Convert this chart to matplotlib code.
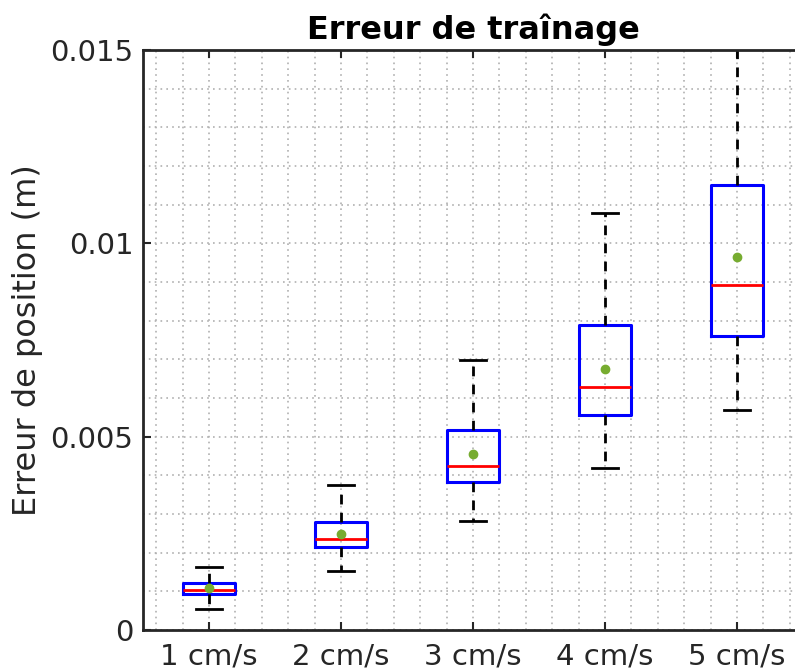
import matplotlib.pyplot as plt
from matplotlib.ticker import MultipleLocator

# statistiques des boîtes par vitesse
labels = ["1 cm/s", "2 cm/s", "3 cm/s", "4 cm/s", "5 cm/s"]
q1 = [0.00093, 0.00215, 0.00383, 0.00556, 0.00760]
med = [0.00103, 0.00235, 0.00424, 0.00628, 0.00892]
q3 = [0.00122, 0.00279, 0.00517, 0.00789, 0.01151]
wlo = [0.00054, 0.00153, 0.00282, 0.00419, 0.00569]
whi = [0.00163, 0.00375, 0.00698, 0.01078, 0.01620]
moy = [0.00109, 0.00248, 0.00455, 0.00675, 0.00965]

stats = []
for i in range(len(labels)):
    stats.append(dict(label=labels[i], q1=q1[i], med=med[i], q3=q3[i],
                      whislo=wlo[i], whishi=whi[i], mean=moy[i], fliers=[]))

axc = '#262626'
fig = plt.figure(figsize=(7.95, 6.71), dpi=100)
ax = fig.add_axes([0.18, 0.0611, 0.830, 0.8644])

ax.bxp(stats, positions=range(1, 6), widths=0.4, showmeans=True,
       boxprops=dict(color='blue', lw=2.2),
       medianprops=dict(color='red', lw=2),
       whiskerprops=dict(color='black', lw=2, linestyle=(0, (3.5, 3))),
       capprops=dict(color='black', lw=2),
       meanprops=dict(marker='o', markersize=6, markerfacecolor='#77AC30',
                      markeredgecolor='#77AC30'))
for line in ax.lines:
    line.set_clip_on(True)

ax.set_xlim(0.5, 5.5)
ax.set_ylim(0, 0.015)
ax.set_yticks([0, 0.005, 0.01, 0.015])
ax.set_yticklabels(["0", "0.005", "0.01", "0.015"])
ax.xaxis.set_minor_locator(MultipleLocator(0.2))
ax.yaxis.set_minor_locator(MultipleLocator(0.001))
ax.grid(True, which='both', color='#b0b0b0', linestyle=(0, (1, 2.5)), lw=1.2)
ax.set_axisbelow(True)

ax.tick_params(which='major', direction='in', length=6, width=1.5, color=axc,
               labelsize=21, labelcolor=axc, top=True, right=True)
ax.tick_params(axis='x', pad=9)
ax.tick_params(axis='y', pad=7)
ax.tick_params(which='minor', length=0)
for s in ax.spines.values():
    s.set_color(axc)
    s.set_linewidth(2)

ax.set_title("Erreur de traînage", fontsize=23, fontweight='bold', pad=8)
ax.set_ylabel("Erreur de position (m)", fontsize=23, color=axc, labelpad=5)

fig.savefig("out.png", dpi=100)
